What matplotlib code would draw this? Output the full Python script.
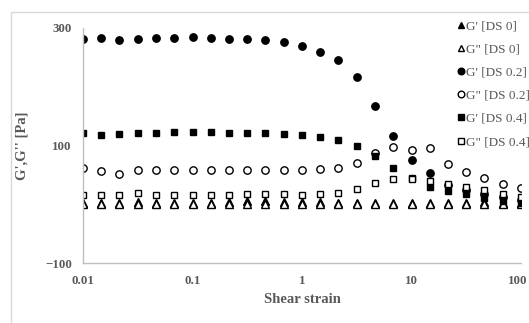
import matplotlib
matplotlib.use("Agg")
import matplotlib.pyplot as plt
from matplotlib.patches import Rectangle
from matplotlib.transforms import ScaledTranslation

strain = [0.01, 0.0147, 0.0215, 0.0316, 0.0464, 0.0681, 0.1, 0.147, 0.215, 0.316,
          0.464, 0.681, 1, 1.47, 2.15, 3.16, 4.64, 6.81, 10, 14.7, 21.5, 31.6, 46.4, 68.1, 100]

gp_ds0 = [2, 2, 2, 3, 2, 2, 2, 2, 3, 5, 5, 3, 3, 3, 2, 2, 2, 2, 2, 2, 2, 2, 3, 2, 2]
gpp_ds0 = [1, 0, 0, 1, 0, 0, 1, 1, 1, 1, 1, 1, 1, 1, 1, 1, 1, 1, 1, 1, 1, 1, 1, 1, 1]
gp_ds02 = [281, 283, 280, 282, 283, 283, 284, 283, 282, 281, 280, 275.5, 268.7, 259, 245,
           216.6, 168, 117, 76, 53, 32, 24, 17, 12, 8]
gpp_ds02 = [62, 56, 52, 59, 59, 59, 59, 59, 59, 59, 59, 59, 59, 60, 61, 70, 88, 98, 93, 96,
            68, 55, 45, 35, 27]
gp_ds04 = [121, 118, 120, 122, 122, 123, 123, 123, 122, 122, 121, 120, 118, 114.5, 108.7,
           98.5, 82, 62, 45, 30, 22, 17, 11, 5, 2]
gpp_ds04 = [16, 16, 16, 19, 16, 16, 16, 16, 16, 17, 17, 17, 16, 18, 20, 26, 36, 43, 43, 39,
            35, 29, 24, 18, 13]

labels = ["G' [DS 0]", 'G" [DS 0]', "G' [DS 0.2]", 'G" [DS 0.2]', "G' [DS 0.4]", 'G" [DS 0.4]']

W, H = 529, 323
fig = plt.figure(figsize=(W / 100, H / 100), dpi=100)
ax = fig.add_axes([83 / W, 1 - 263 / H, (521 - 83) / W, (263 - 28) / H])

gray = "#595959"
axc = "#bfbfbf"

fig.patches.append(Rectangle((11 / W, -0.1), 1.2, 1 - 12 / H + 0.1, transform=fig.transFigure,
                             fill=False, edgecolor="#d9d9d9", linewidth=1.0))

ms = 5.3
ax.plot(strain, gp_ds0, ls="none", marker="^", ms=ms, color="black", label=labels[0])
ax.plot(strain, gpp_ds0, ls="none", marker="^", ms=ms, mfc="white", mec="black", mew=1.0, label=labels[1])
ax.plot(strain, gp_ds02, ls="none", marker="o", ms=ms, color="black", label=labels[2])
ax.plot(strain, gpp_ds02, ls="none", marker="o", ms=ms, mfc="white", mec="black", mew=1.0, label=labels[3])
ax.plot(strain, gp_ds04, ls="none", marker="s", ms=ms - 0.3, color="black", label=labels[4])
ax.plot(strain, gpp_ds04, ls="none", marker="s", ms=ms - 0.3, mfc="white", mec="black", mew=1.0, label=labels[5])

ax.set_xscale("log")
ax.set_xlim(0.01, 100)
ax.set_ylim(-100, 300)
ax.set_yticks([-100, 100, 300])
ax.set_xticks([0.01, 0.1, 1, 10, 100])
ax.set_xticklabels(["0.01", "0.1", "1", "10", "100"])
ax.minorticks_off()
ax.tick_params(length=0, labelsize=9.3, labelcolor=gray, pad=8)
for lab in ax.get_xticklabels() + ax.get_yticklabels():
    lab.set_fontfamily("Liberation Serif")
    lab.set_fontweight("bold")
ax.tick_params(axis="x", pad=9)
last = ax.get_xticklabels()[-1]
last.set_transform(last.get_transform() + ScaledTranslation(-3 / 100, 0, fig.dpi_scale_trans))
for s in ["top", "right"]:
    ax.spines[s].set_visible(False)
for s in ["left", "bottom"]:
    ax.spines[s].set_color(axc)
    ax.spines[s].set_linewidth(1.0)
ax.patch.set_alpha(0)

ax.set_xlabel("Shear strain", fontfamily="Liberation Serif", fontweight="bold", fontsize=10.5,
              color=gray, labelpad=4)
ax.set_ylabel("G',G'' [Pa]", fontfamily="Liberation Serif", fontweight="bold", fontsize=10.5,
              color=gray, labelpad=12)

leg = ax.legend(loc="upper left", bbox_to_anchor=(457 / W, 1 - 20 / H), bbox_transform=fig.transFigure,
                frameon=False, handlelength=0.55, handletextpad=0.1, labelspacing=0.83,
                borderaxespad=0, borderpad=0,
                prop={"family": "Liberation Serif", "size": 9.5}, markerscale=0.9)
for t in leg.get_texts():
    t.set_color(gray)

fig.savefig("out.png", dpi=100)
